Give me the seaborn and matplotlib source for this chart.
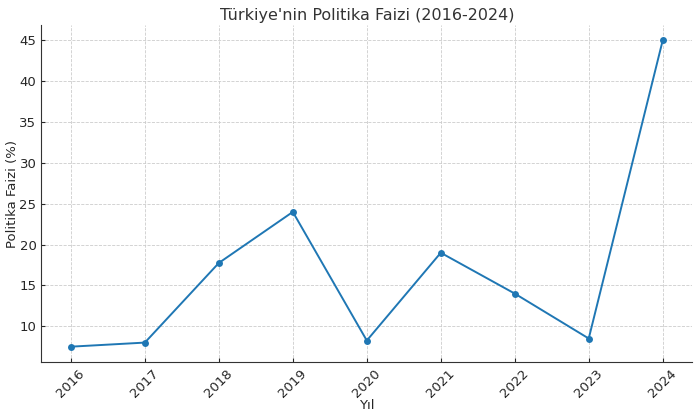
import matplotlib
matplotlib.use("Agg")
import matplotlib.pyplot as plt
import seaborn as sns
import pandas as pd

years = [2016, 2017, 2018, 2019, 2020, 2021, 2022, 2023, 2024]
rates = [7.5, 8.0, 17.75, 24.0, 8.25, 19.0, 14.0, 8.5, 45.0]

df = pd.DataFrame({"Yıl": years, "Faiz": rates})

sns.set_style("ticks")
plt.rcParams['font.family'] = ['DejaVu Sans']

fig = plt.figure(figsize=(7, 4.18), dpi=100)
ax = fig.add_axes([0.059, 0.134, 0.93, 0.806])
sns.lineplot(data=df, x="Yıl", y="Faiz", marker="o", markersize=5,
             markeredgewidth=0, color="#1f77b4", linewidth=1.4, ax=ax)
ax.set_xticks(years)
ax.set_xticklabels([str(y) for y in years], rotation=45)
ax.tick_params(direction="in", labelsize=9.5, colors="#262626", length=3)
ax.set_title("Türkiye'nin Politika Faizi (2016-2024)", fontsize=11.5, color="#333333", pad=4)
ax.set_xlabel("Yıl", fontsize=9.5, color="#262626", labelpad=-1)
ax.set_ylabel("Politika Faizi (%)", fontsize=9.5, color="#262626", labelpad=0)
ax.grid(True, linestyle="--", linewidth=0.6, color="#cccccc")
for s in ["top", "right"]:
    ax.spines[s].set_visible(False)
for s in ["left", "bottom"]:
    ax.spines[s].set_color("#333333")
fig.savefig("out.png", dpi=100)
